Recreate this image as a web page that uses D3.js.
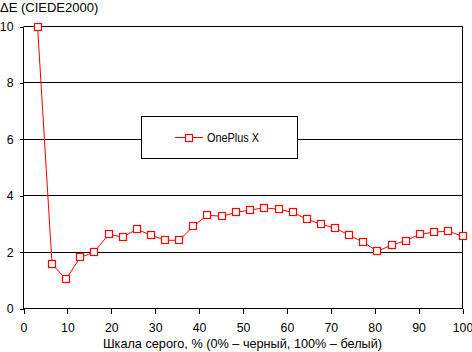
<!DOCTYPE html>
<html><head><meta charset="utf-8">
<script src="https://cdn.jsdelivr.net/npm/d3@7"></script>
<style>
html,body{margin:0;padding:0;background:#fff;}
svg{display:block;font-family:"Liberation Sans",Arial,sans-serif;}
</style></head>
<body>
<svg id="c" width="472" height="352"></svg>
<script>
const grayLevels = [3.2, 6.5, 9.7, 12.9, 16.1, 19.4, 22.6, 25.8, 29.0, 32.3, 35.5, 38.7, 41.9, 45.2, 48.4, 51.6, 54.8, 58.1, 61.3, 64.5, 67.7, 71.0, 74.2, 77.4, 80.6, 83.9, 87.1, 90.3, 93.5, 96.8, 100];
const deltaE = [10.0, 1.57, 1.04, 1.81, 2.0, 2.63, 2.53, 2.81, 2.60, 2.42, 2.42, 2.92, 3.31, 3.27, 3.41, 3.49, 3.57, 3.52, 3.41, 3.17, 2.99, 2.85, 2.60, 2.35, 2.03, 2.25, 2.41, 2.63, 2.71, 2.74, 2.56];
const xTicks = [0, 10, 20, 30, 40, 50, 60, 70, 80, 90, 100];
const yTicks = [0, 2, 4, 6, 8, 10];
const seriesName = "OnePlus X";
const yTitle = "ΔE (CIEDE2000)";
const xTitle = "Шкала серого, % (0% – черный, 100% – белый)";

const svg = d3.select("#c");
const x = d3.scaleLinear().domain([0, 100]).range([23.5, 462.5]);
const y = d3.scaleLinear().domain([0, 10]).range([308.5, 26.5]);

// gridlines
svg.append("g").selectAll("line").data(yTicks.filter(d => d > 0)).join("line")
  .attr("x1", x(0)).attr("x2", x(100))
  .attr("y1", d => Math.round(y(d) - 0.5) + 0.5).attr("y2", d => Math.round(y(d) - 0.5) + 0.5)
  .attr("stroke", "#000").attr("stroke-width", 1);

// right border
svg.append("line").attr("x1", x(100)).attr("x2", x(100)).attr("y1", y(10)).attr("y2", y(0))
  .attr("stroke", "#000");

// y axis
const yAxis = d3.axisLeft(y).tickValues(yTicks).tickSize(5).tickPadding(5).tickFormat(d3.format("d"));
const gy = svg.append("g").attr("transform", `translate(${x(0)},0)`).call(yAxis);
gy.select(".domain").attr("d", `M0,${y(10)}V${y(0)}`);
// x axis
const xAxis = d3.axisBottom(x).tickValues(xTicks).tickSize(5).tickPadding(10).tickFormat(d3.format("d"));
const gx = svg.append("g").attr("transform", `translate(0,${y(0)})`).call(xAxis);
gx.select(".domain").attr("d", `M${x(0)},0H${x(100)}`);
[gx, gy].forEach(g => {
  g.selectAll(".domain").attr("stroke", "#000").attr("shape-rendering", "crispEdges");
  g.selectAll(".tick line").attr("stroke", "#000").attr("shape-rendering", "crispEdges");
  g.selectAll("text").attr("fill", "#000").style("font-size", "12.3px").style("font-family", '"Liberation Sans",Arial,sans-serif');
});
gy.selectAll(".tick line").attr("x2", -4);

// line
const line = d3.line().x((d, i) => x(grayLevels[i])).y(d => y(d));
svg.append("path").datum(deltaE).attr("d", line).attr("fill", "none").attr("stroke", "#ff0000").attr("stroke-width", 1);
svg.append("g").selectAll("rect").data(deltaE).join("rect")
  .attr("x", (d, i) => Math.round(x(grayLevels[i])) - 4 + 0.5)
  .attr("y", d => Math.round(y(d)) - 4 + 0.5)
  .attr("width", 7).attr("height", 7)
  .attr("fill", "#fff").attr("stroke", "#ff0000").attr("stroke-width", 1.2);

// legend
const lg = svg.append("g");
lg.append("rect").attr("x", 141.5).attr("y", 116.5).attr("width", 156).attr("height", 42)
  .attr("fill", "#fff").attr("stroke", "#000").attr("stroke-width", 1);
lg.append("line").attr("x1", 175).attr("x2", 203).attr("y1", 137.5).attr("y2", 137.5).attr("stroke", "#ff0000");
lg.append("rect").attr("x", 185.5).attr("y", 134.5).attr("width", 7).attr("height", 7)
  .attr("fill", "#fff").attr("stroke", "#ff0000").attr("stroke-width", 1.2);
lg.append("text").attr("x", 207).attr("y", 142).text(seriesName).style("font-size", "12px").attr("textLength", 52).attr("lengthAdjust", "spacingAndGlyphs");

// titles
svg.append("text").attr("x", 0).attr("y", 12).text(yTitle).style("font-size", "13px");
svg.append("text").attr("x", 242.5).attr("y", 348).attr("text-anchor", "middle").text(xTitle).style("font-size", "12.7px");
</script>
</body></html>
